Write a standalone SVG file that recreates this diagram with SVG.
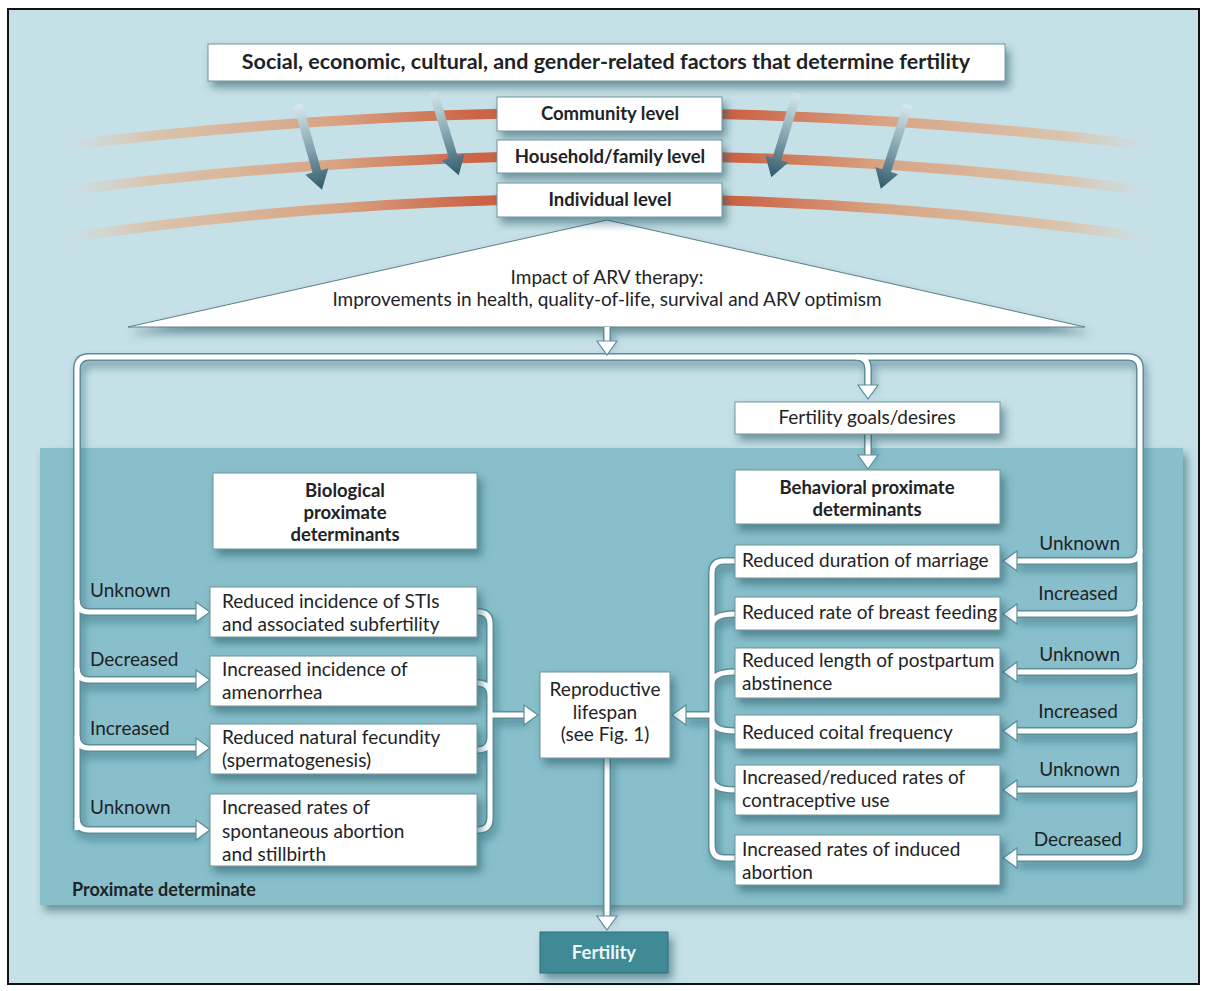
<svg xmlns="http://www.w3.org/2000/svg" xmlns:xlink="http://www.w3.org/1999/xlink" width="1207" height="991" viewBox="0 0 1207 991">
  <style>
    text { font-family: "Lato", "Open Sans", sans-serif; fill: #1e2326; }
    .t { font-size: 19px; }
    .b { font-size: 18.5px; font-weight: bold; }
    .c { text-anchor: middle; }
    .e { text-anchor: end; }
    .box { fill: #ffffff; stroke: #6f949c; stroke-width: 1; filter: url(#sh); }
    .co { fill: none; stroke: #5d8d98; stroke-width: 8; stroke-linecap: butt; stroke-linejoin: round; }
    .ci { fill: none; stroke: #ffffff; stroke-width: 5; stroke-linecap: butt; stroke-linejoin: round; }
    .ah { fill: #ffffff; stroke: #5d8d98; stroke-width: 1.2; stroke-linejoin: miter; }
    .arc { fill: none; stroke-width: 10; stroke-linecap: round; }
  </style>
  <defs>
    <filter id="sh" x="-10%" y="-20%" width="125%" height="160%">
      <feDropShadow dx="4" dy="6" stdDeviation="4" flood-color="#1d5260" flood-opacity="0.55"/>
    </filter>
    <filter id="shc" x="-5%" y="-5%" width="110%" height="115%">
      <feDropShadow dx="3" dy="6" stdDeviation="4" flood-color="#1d5260" flood-opacity="0.45"/>
    </filter>
    <linearGradient id="arcg" gradientUnits="userSpaceOnUse" x1="65" y1="0" x2="1150" y2="0">
      <stop offset="0" stop-color="#e2cdbb" stop-opacity="0"/>
      <stop offset="0.08" stop-color="#dcc0a6" stop-opacity="0.9"/>
      <stop offset="0.25" stop-color="#d8a382"/>
      <stop offset="0.38" stop-color="#cc6445"/>
      <stop offset="0.62" stop-color="#cc6445"/>
      <stop offset="0.75" stop-color="#d8a382"/>
      <stop offset="0.92" stop-color="#dcc0a6" stop-opacity="0.9"/>
      <stop offset="1" stop-color="#e2cdbb" stop-opacity="0"/>
    </linearGradient>
    <linearGradient id="dg" x1="0" y1="0" x2="0" y2="1">
      <stop offset="0" stop-color="#d6e8ec"/>
      <stop offset="0.55" stop-color="#7f9fab"/>
      <stop offset="1" stop-color="#305a6a"/>
    </linearGradient>
    <!-- gradient arrow pointing down, tip at (0,88) -->
    <path id="darrow" d="M-4.5,0 L4.5,0 L4.5,69 L12,69 L0,88 L-12,69 L-4.5,69 Z" fill="url(#dg)"/>
    <!-- white arrowhead pointing right, tip at origin -->
    <path id="head" d="M-14,-10 L0,0 L-14,10 Z" class="ah"/>
    <!-- connector routes -->
    <path id="c-top" d="M607,327 V342"/>
    <path id="c-loop" d="M77,830 V369 Q77,357 89,357 H1128 Q1140,357 1140,369 V846 Q1140,858 1128,858 H1015"/>
    <path id="c-l1" d="M77,600 Q77,612 89,612 H198"/>
    <path id="c-l2" d="M77,668 Q77,680 89,680 H198"/>
    <path id="c-l3" d="M77,736 Q77,748 89,748 H198"/>
    <path id="c-l4" d="M77,818 Q77,830 89,830 H198"/>
    <path id="c-r1" d="M1140,549 Q1140,561 1128,561 H1015"/>
    <path id="c-r2" d="M1140,602 Q1140,614 1128,614 H1015"/>
    <path id="c-r3" d="M1140,660 Q1140,672 1128,672 H1015"/>
    <path id="c-r4" d="M1140,719 Q1140,731 1128,731 H1015"/>
    <path id="c-r5" d="M1140,778 Q1140,790 1128,790 H1015"/>
    <path id="c-goal" d="M856,357 Q868,357 868,369 V386"/>
    <path id="c-goal2" d="M868,434 V456"/>
    <path id="c-bio" d="M477,612 H478 Q490,612 490,624 V818 Q490,830 478,830 H477 M477,683 Q490,683 490,695 M477,750 Q490,750 490,738 M490,715 H525"/>
    <path id="c-beh" d="M735,561 H724 Q712,561 712,573 V846 Q712,858 724,858 H735 M735,614 Q712,614 712,626 M735,672 Q712,672 712,684 M735,731 Q712,731 712,719 M735,790 Q712,790 712,778 M712,715 H685"/>
    <path id="c-fert" d="M607,758 V917"/>
  </defs>

  <!-- background and frame -->
  <rect x="8" y="9" width="1191" height="975" fill="#c6e0e7" stroke="#111" stroke-width="2"/>

  <!-- level arcs -->
  <g id="arcs">
    <path class="arc" stroke="url(#arcg)" d="M70,145 Q607,80 1145,145"/>
    <path class="arc" stroke="url(#arcg)" d="M70,190 Q607,121 1145,190"/>
    <path class="arc" stroke="url(#arcg)" d="M70,237 Q607,160 1145,237"/>
  </g>

  <!-- influence arrows from the determinants box -->
  <g id="influence-arrows">
    <use xlink:href="#darrow" transform="translate(298,105) rotate(-15.8)"/>
    <use xlink:href="#darrow" transform="translate(433,91) rotate(-17)"/>
    <use xlink:href="#darrow" transform="translate(797,93) rotate(17)"/>
    <use xlink:href="#darrow" transform="translate(908,105) rotate(18)"/>
  </g>

  <g id="title">
    <rect class="box" x="208" y="44" width="797" height="37"/>
    <text class="b c" x="606" y="69" style="font-size:21.5px">Social, economic, cultural, and gender-related factors that determine fertility</text>
  </g>

  <!-- ARV impact triangle -->
  <g id="arv-impact">
    <path d="M607,220 L1085,327 L128,327 Z" fill="#ffffff" stroke="#5d7f88" stroke-width="1" filter="url(#sh)"/>
    <text class="t c" x="607" y="284">Impact of ARV therapy:</text>
    <text class="t c" x="607" y="306">Improvements in health, quality-of-life, survival and ARV optimism</text>
  </g>

  <g id="community">
    <rect class="box" x="497" y="97" width="225" height="34"/>
    <text class="b c" x="610" y="120">Community level</text>
  </g>
  <g id="household">
    <rect class="box" x="497" y="140" width="225" height="33"/>
    <text class="b c" x="610" y="163">Household/family level</text>
  </g>
  <g id="individual">
    <rect class="box" x="497" y="183" width="225" height="34"/>
    <text class="b c" x="610" y="206">Individual level</text>
  </g>

  <!-- proximate determinate panel -->
  <g id="proximate-panel">
    <rect x="40" y="448" width="1143" height="457" fill="#88bfcb" filter="url(#sh)"/>
    <text class="b" x="72" y="896" style="font-size:18px">Proximate determinate</text>
  </g>

  <!-- connectors -->
  <g id="connectors">
    <g class="co" filter="url(#shc)">
      <use xlink:href="#c-top"/><use xlink:href="#c-loop"/>
      <use xlink:href="#c-l1"/><use xlink:href="#c-l2"/><use xlink:href="#c-l3"/><use xlink:href="#c-l4"/>
      <use xlink:href="#c-r1"/><use xlink:href="#c-r2"/><use xlink:href="#c-r3"/><use xlink:href="#c-r4"/><use xlink:href="#c-r5"/>
      <use xlink:href="#c-goal"/><use xlink:href="#c-goal2"/><use xlink:href="#c-bio"/><use xlink:href="#c-beh"/><use xlink:href="#c-fert"/>
    </g>
    <g class="ci">
      <use xlink:href="#c-top"/><use xlink:href="#c-loop"/>
      <use xlink:href="#c-l1"/><use xlink:href="#c-l2"/><use xlink:href="#c-l3"/><use xlink:href="#c-l4"/>
      <use xlink:href="#c-r1"/><use xlink:href="#c-r2"/><use xlink:href="#c-r3"/><use xlink:href="#c-r4"/><use xlink:href="#c-r5"/>
      <use xlink:href="#c-goal"/><use xlink:href="#c-goal2"/><use xlink:href="#c-bio"/><use xlink:href="#c-beh"/><use xlink:href="#c-fert"/>
    </g>
    <!-- arrowheads -->
    <use xlink:href="#head" transform="translate(607,355) rotate(90)"/>
    <use xlink:href="#head" transform="translate(210,612)"/>
    <use xlink:href="#head" transform="translate(210,680)"/>
    <use xlink:href="#head" transform="translate(210,748)"/>
    <use xlink:href="#head" transform="translate(210,830)"/>
    <use xlink:href="#head" transform="translate(1003,561) rotate(180)"/>
    <use xlink:href="#head" transform="translate(1003,614) rotate(180)"/>
    <use xlink:href="#head" transform="translate(1003,672) rotate(180)"/>
    <use xlink:href="#head" transform="translate(1003,731) rotate(180)"/>
    <use xlink:href="#head" transform="translate(1003,790) rotate(180)"/>
    <use xlink:href="#head" transform="translate(1003,858) rotate(180)"/>
    <use xlink:href="#head" transform="translate(868,399) rotate(90)"/>
    <use xlink:href="#head" transform="translate(868,469) rotate(90)"/>
    <use xlink:href="#head" transform="translate(538,715)"/>
    <use xlink:href="#head" transform="translate(672,715) rotate(180)"/>
    <use xlink:href="#head" transform="translate(607,930) rotate(90)"/>
    <!-- effect labels -->
    <text class="t" x="90" y="597">Unknown</text>
    <text class="t" x="90" y="666">Decreased</text>
    <text class="t" x="90" y="735">Increased</text>
    <text class="t" x="90" y="814">Unknown</text>
    <text class="t e" x="1120" y="550">Unknown</text>
    <text class="t e" x="1118" y="600">Increased</text>
    <text class="t e" x="1120" y="661">Unknown</text>
    <text class="t e" x="1118" y="718">Increased</text>
    <text class="t e" x="1120" y="776">Unknown</text>
    <text class="t e" x="1122" y="846">Decreased</text>
  </g>

  <g id="fertility-goals">
    <rect class="box" x="735" y="402" width="265" height="32"/>
    <text class="t c" x="867" y="424">Fertility goals/desires</text>
  </g>

  <g id="biological">
    <rect class="box" x="213" y="473" width="264" height="76"/>
    <text class="b c" x="345" y="497">Biological</text>
    <text class="b c" x="345" y="519">proximate</text>
    <text class="b c" x="345" y="541">determinants</text>
  </g>
  <g id="behavioral">
    <rect class="box" x="735" y="470" width="265" height="54"/>
    <text class="b c" x="867" y="494">Behavioral proximate</text>
    <text class="b c" x="867" y="516">determinants</text>
  </g>

  <g id="bio-sti">
    <rect class="box" x="210" y="587" width="267" height="50"/>
    <text class="t" x="222" y="608">Reduced incidence of STIs</text>
    <text class="t" x="222" y="631">and associated subfertility</text>
  </g>
  <g id="bio-amenorrhea">
    <rect class="box" x="210" y="656" width="267" height="50"/>
    <text class="t" x="222" y="676">Increased incidence of</text>
    <text class="t" x="222" y="699">amenorrhea</text>
  </g>
  <g id="bio-fecundity">
    <rect class="box" x="210" y="724" width="267" height="50"/>
    <text class="t" x="222" y="744">Reduced natural fecundity</text>
    <text class="t" x="222" y="767">(spermatogenesis)</text>
  </g>
  <g id="bio-abortion">
    <rect class="box" x="210" y="794" width="267" height="72"/>
    <text class="t" x="222" y="814">Increased rates of</text>
    <text class="t" x="222" y="838">spontaneous abortion</text>
    <text class="t" x="222" y="861">and stillbirth</text>
  </g>

  <g id="reproductive-lifespan">
    <rect class="box" x="540" y="672" width="130" height="86"/>
    <text class="t c" x="605" y="696">Reproductive</text>
    <text class="t c" x="605" y="719">lifespan</text>
    <text class="t c" x="605" y="741">(see Fig. 1)</text>
  </g>

  <g id="beh-marriage">
    <rect class="box" x="735" y="545" width="265" height="33"/>
    <text class="t" x="742" y="567">Reduced duration of marriage</text>
  </g>
  <g id="beh-breastfeeding">
    <rect class="box" x="735" y="597" width="265" height="33"/>
    <text class="t" x="742" y="619">Reduced rate of breast feeding</text>
  </g>
  <g id="beh-abstinence">
    <rect class="box" x="735" y="648" width="265" height="50"/>
    <text class="t" x="742" y="667">Reduced length of postpartum</text>
    <text class="t" x="742" y="690">abstinence</text>
  </g>
  <g id="beh-coital">
    <rect class="box" x="735" y="715" width="265" height="34"/>
    <text class="t" x="742" y="739">Reduced coital frequency</text>
  </g>
  <g id="beh-contraception">
    <rect class="box" x="735" y="765" width="265" height="50"/>
    <text class="t" x="742" y="784">Increased/reduced rates of</text>
    <text class="t" x="742" y="807">contraceptive use</text>
  </g>
  <g id="beh-induced">
    <rect class="box" x="735" y="835" width="265" height="50"/>
    <text class="t" x="742" y="856">Increased rates of induced</text>
    <text class="t" x="742" y="879">abortion</text>
  </g>

  <g id="fertility">
    <rect x="540" y="932" width="128" height="41" fill="#3f8a96" stroke="#2f6f7a" stroke-width="1" filter="url(#sh)"/>
    <text class="b c" x="604" y="959" style="fill:#eef6f7">Fertility</text>
  </g>
</svg>
